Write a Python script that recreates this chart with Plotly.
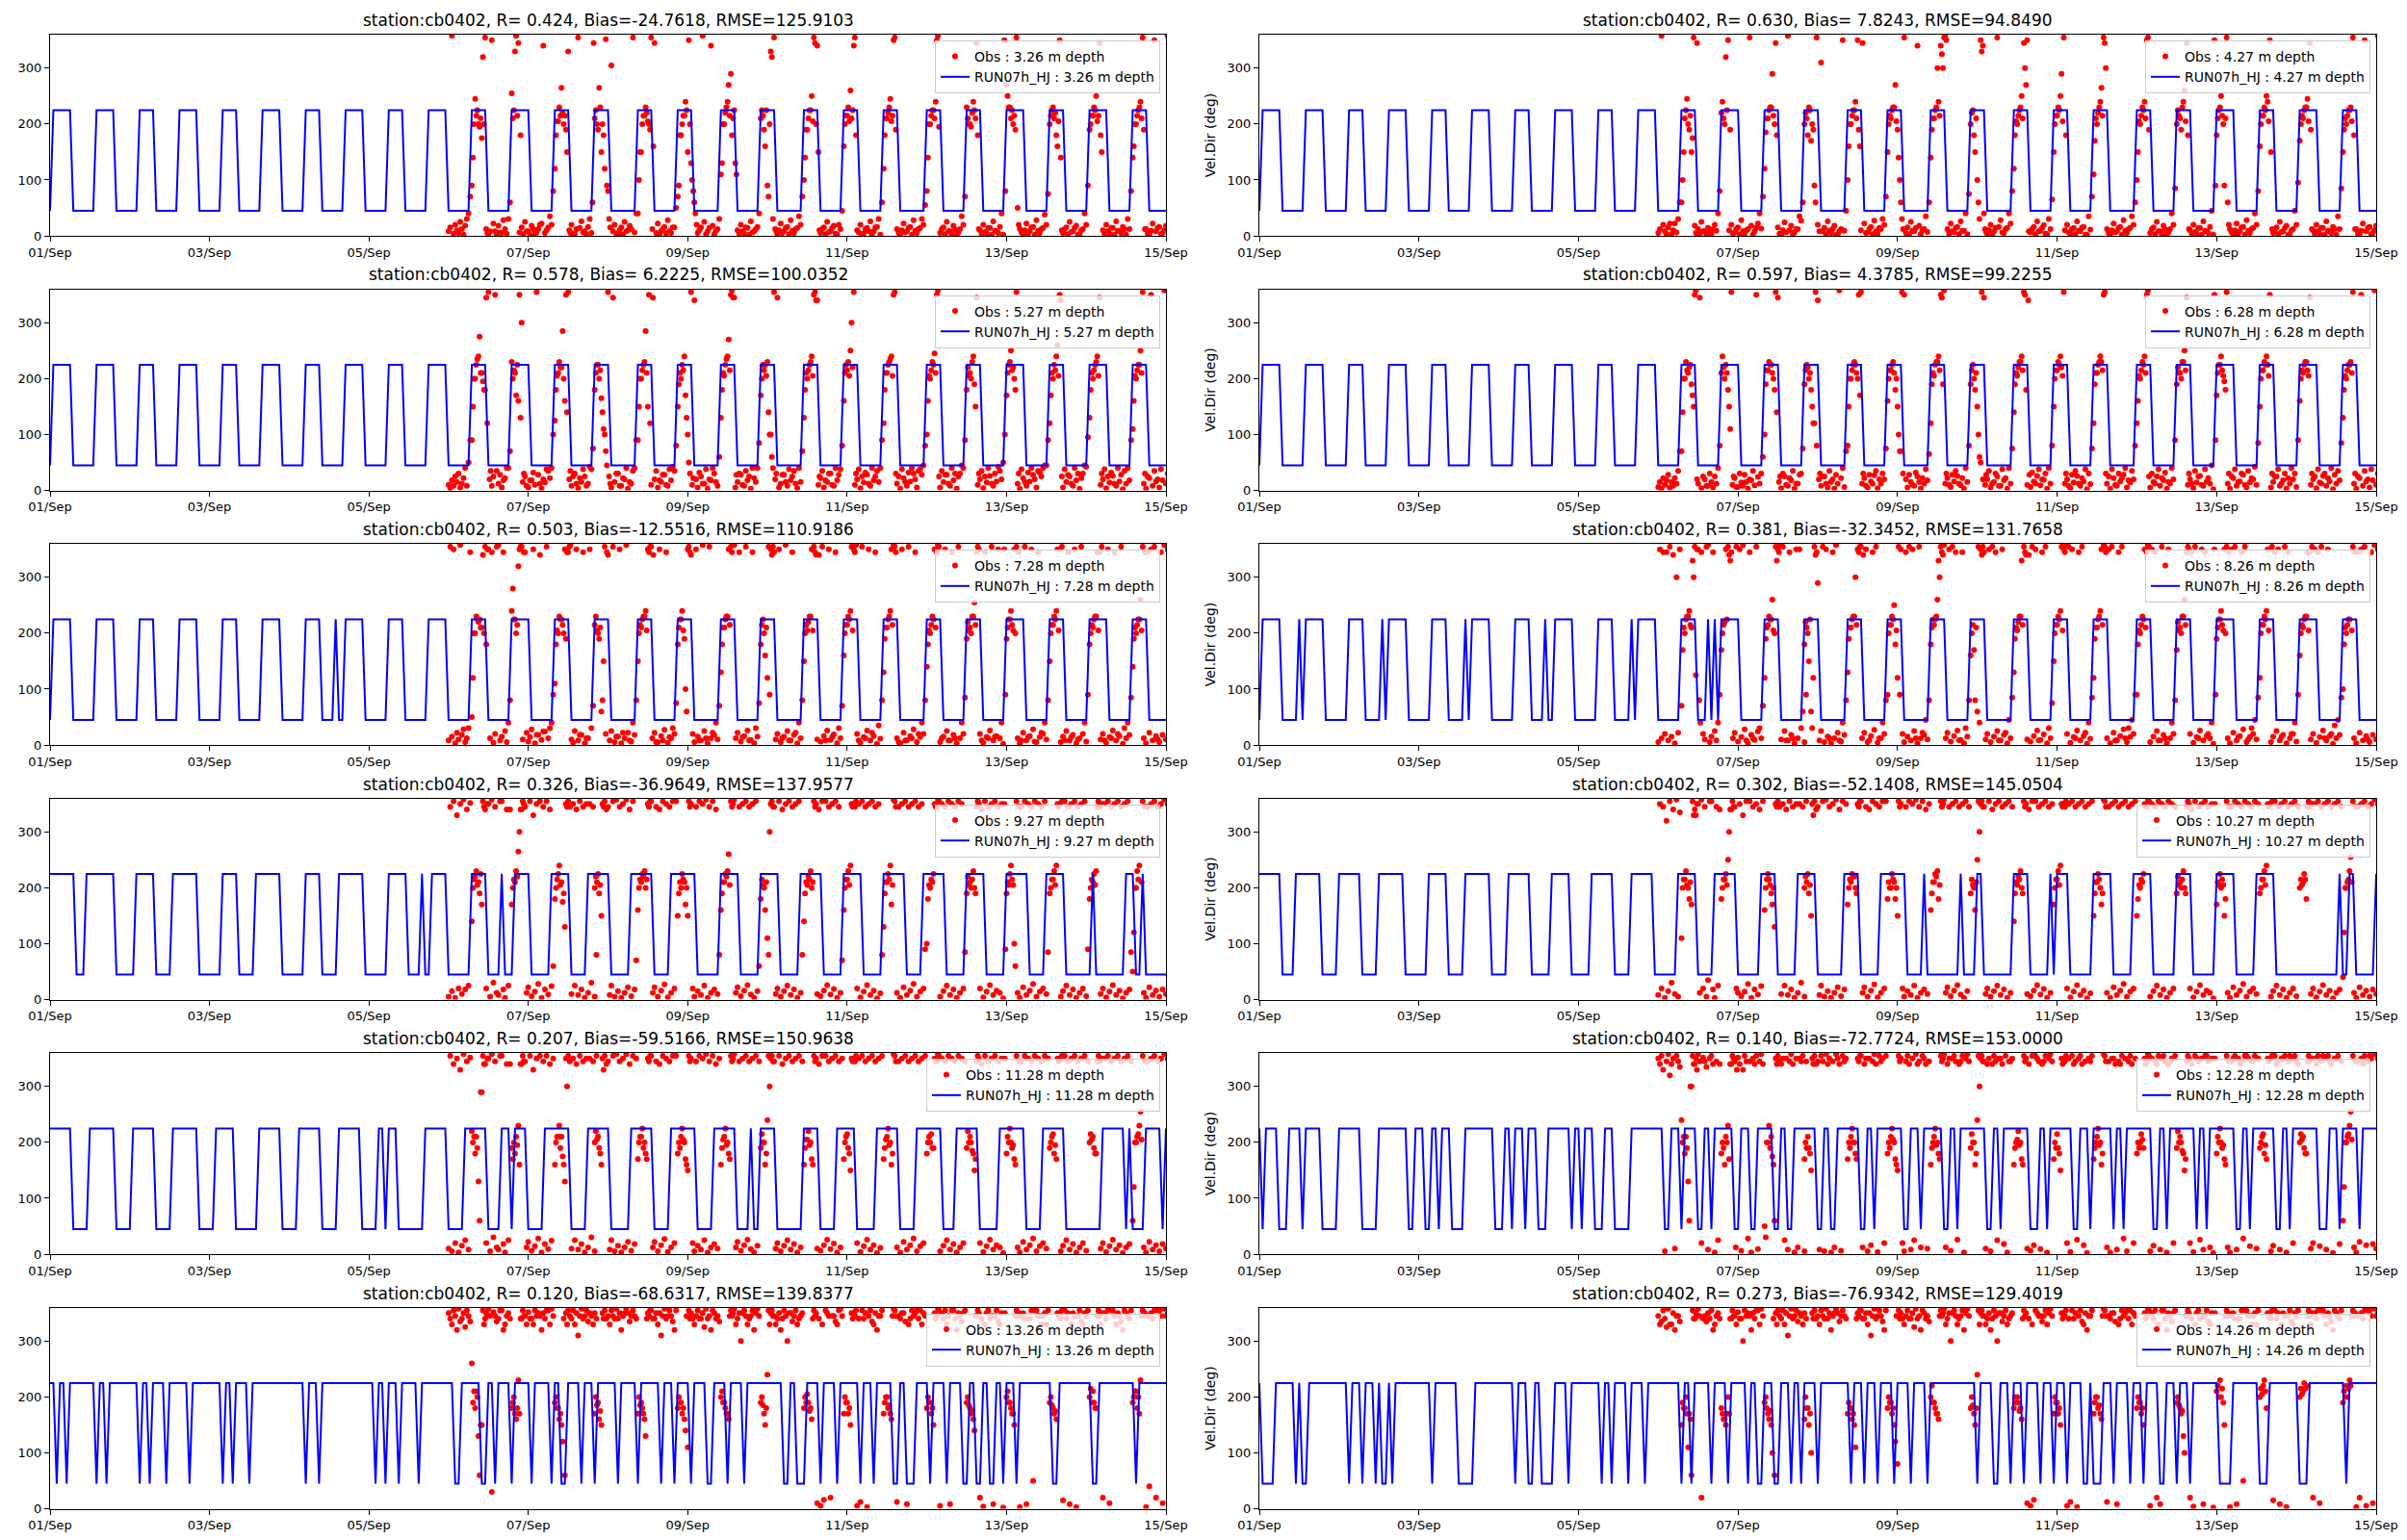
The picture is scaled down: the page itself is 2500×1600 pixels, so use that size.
import pandas as pd
import plotly.graph_objects as go

t0 = pd.Timestamp("2021-09-01")

depths = ["3.26", "4.27", "5.27", "6.28", "7.28", "8.26",
          "9.27", "10.27", "11.28", "12.28", "13.26", "14.26"]
r_vals = [0.424, 0.630, 0.578, 0.597, 0.503, 0.381, 0.326, 0.302, 0.207, 0.140, 0.120, 0.273]
bias_vals = [-24.7618, 7.8243, 6.2225, 4.3785, -12.5516, -32.3452,
             -36.9649, -52.1408, -59.5166, -72.7724, -68.6317, -76.9342]
rmse_vals = [125.9103, 94.8490, 100.0352, 99.2255, 110.9186, 131.7658,
             137.9577, 145.0504, 150.9638, 153.0000, 139.8377, 129.4019]

xtick_days = [0, 2, 4, 6, 8, 10, 12, 14]
ytick_vals = [0, 100, 200, 300]

# model (hourly, hours after 01/Sep 00h): hours where direction = 225 deg, else 45 deg
hi_base = [[1, 6], [14, 19], [27, 31], [39, 44], [52, 56], [64, 69], [77, 81], [89, 94], [102, 106],
           [114, 119], [127, 131], [139, 144], [152, 156], [164, 168], [177, 181], [189, 193], [202, 206],
           [214, 218], [227, 231], [239, 243], [251, 255], [264, 268], [276, 280], [288, 293], [301, 305],
           [313, 318], [326, 330]]
hi_728_extra = [[86, 86]]
hi_826_extra = [[12, 12], [37, 37], [62, 62], [86, 86], [112, 112], [135, 135], [137, 137]]
hi_927 = [[0, 7], [11, 19], [26, 31], [37, 44], [52, 56], [62, 69], [77, 81], [87, 94], [102, 107], [112, 112],
          [115, 119], [127, 131], [136, 136], [140, 144], [151, 156], [162, 168], [175, 181], [187, 194],
          [202, 207], [214, 219], [226, 232], [239, 244], [251, 257], [263, 269], [276, 281], [288, 294],
          [300, 305], [314, 314], [324, 326], [329, 329]]
hi_1027 = [[0, 6], [11, 18], [24, 30], [36, 43], [51, 56], [62, 69], [75, 81], [88, 93], [100, 106], [112, 118],
           [126, 131], [137, 143], [151, 155], [162, 167], [176, 180], [187, 194], [200, 200], [211, 211],
           [216, 217], [227, 231], [238, 238], [240, 243], [251, 256], [263, 268], [276, 280], [288, 293],
           [300, 305], [325, 325], [328, 329], [336, 336]]
hi_1128 = [[0, 6], [12, 19], [25, 31], [37, 44], [50, 55], [63, 69], [75, 81], [87, 93], [99, 100], [102, 104],
           [113, 119], [125, 131], [136, 138], [140, 143], [149, 156], [162, 168], [175, 181], [187, 194],
           [200, 206], [211, 211], [214, 218], [227, 231], [237, 242], [249, 255], [261, 268], [273, 279],
           [286, 293], [299, 305], [317, 323], [325, 325], [330, 334], [336, 336]]
hi_1228 = [[0, 0], [2, 5], [9, 12], [14, 18], [24, 30], [36, 44], [47, 49], [52, 53], [55, 57], [62, 70],
           [74, 75], [77, 79], [81, 83], [87, 93], [95, 96], [98, 100], [104, 106], [112, 121], [124, 126],
           [128, 131], [134, 135], [137, 142], [145, 147], [150, 154], [157, 158], [161, 167], [170, 171],
           [174, 180], [183, 184], [186, 193], [196, 198], [200, 205], [208, 209], [211, 218], [221, 222],
           [224, 231], [235, 236], [238, 244], [247, 249], [251, 256], [258, 259], [261, 268], [271, 272],
           [274, 281], [283, 284], [286, 293], [296, 297], [299, 305], [308, 309], [311, 318], [322, 324],
           [326, 330], [332, 336]]
# deepest layers: hours where direction drops to 45 deg, else 225 deg
lo_1326 = [[2, 2], [5, 5], [14, 14], [17, 17], [27, 27], [30, 30], [35, 35], [42, 42], [52, 52], [55, 55],
           [60, 60], [77, 77], [81, 81], [98, 98], [101, 101], [105, 105], [111, 111], [122, 123], [130, 131],
           [134, 134], [139, 139], [145, 145], [151, 151], [154, 155], [160, 160], [164, 164], [171, 171],
           [177, 177], [184, 184], [188, 188], [193, 193], [198, 199], [204, 204], [209, 209], [221, 222],
           [225, 227], [232, 232], [237, 237], [244, 244], [248, 248], [254, 255], [258, 260], [265, 265],
           [270, 270], [275, 276], [279, 280], [283, 284], [287, 287], [291, 291], [302, 303], [314, 315],
           [327, 327]]
lo_1426 = [[1, 4], [11, 11], [13, 14], [27, 27], [31, 31], [35, 35], [37, 38], [40, 40], [52, 52], [60, 64],
           [77, 77], [81, 82], [85, 88], [93, 93], [103, 103], [106, 106], [111, 111], [116, 116], [127, 127],
           [130, 130], [136, 136], [141, 141], [147, 147], [150, 151], [155, 156], [160, 160], [163, 163],
           [168, 168], [178, 178], [182, 182], [186, 186], [191, 191], [196, 196], [201, 201], [216, 216],
           [221, 222], [226, 226], [230, 230], [235, 235], [239, 239], [243, 243], [248, 249], [251, 253],
           [257, 257], [262, 262], [266, 266], [271, 272], [276, 276], [280, 280], [289, 292], [301, 303],
           [313, 315], [327, 327]]

model_hi = {"3.26": hi_base, "4.27": hi_base, "5.27": hi_base, "6.28": hi_base,
            "7.28": hi_base + hi_728_extra, "8.26": hi_base + hi_826_extra,
            "9.27": hi_927, "10.27": hi_1027, "11.28": hi_1128, "12.28": hi_1228}
model_lo = {"13.26": lo_1326, "14.26": lo_1426}

# observations: (start hour, one list of readings per consecutive hour)
obs_326 = [
    (120, [[8, 15], [358, 4], [20, 10], [5, 25], [12, 2], [18, 30], [40, 70]]),
    (127, [[90, 140, 200], [245, 215, 225], [200, 195, 210], [175, 320, 200], [355, 12, 5], [3, 8], [350, 22], [8, 2], [18, 6], [5, 28], [12, 4], [30, 60]]),
    (139, [[255, 210, 225], [330, 358, 215], [345, 6, 180], [15, 3], [25, 8], [8, 2], [18, 12], [3, 6], [12, 20], [22, 340], [5, 10], [15, 35], [20, 80]]),
    (152, [[120, 180, 205], [205, 230, 215], [265, 220, 200], [215, 190, 150], [330, 10, 5], [20, 4], [4, 12], [355, 14], [26, 6], [8, 2], [16, 30], [5, 60, 345]]),
    (164, [[210, 225, 200], [190, 265, 230], [150, 200, 180], [120, 352, 90], [80, 30, 15], [305, 8], [20, 4], [3, 10], [15, 2], [25, 8], [10, 18], [12, 355], [6, 40]]),
    (177, [[40, 100, 150], [150, 200, 215], [215, 230, 220], [205, 200, 190], [355, 12, 160], [345, 5], [22, 3], [8, 12], [16, 4], [28, 8], [5, 15], [15, 50]]),
    (189, [[70, 90, 180], [180, 200, 215], [215, 240, 225], [150, 350, 200], [130, 100, 80], [60, 40, 20], [5, 10], [15, 358], [25, 3], [8, 14], [340, 18], [3, 9], [12, 30]]),
    (202, [[110, 130, 200], [200, 220, 230], [240, 270, 215], [290, 180, 210], [225, 130, 110], [10, 4], [20, 8], [4, 15], [14, 2], [26, 6], [8, 12], [16, 40]]),
    (214, [[210, 225, 215], [190, 160, 225], [90, 70, 200], [330, 320, 30], [355, 12, 8], [3, 10], [22, 5], [8, 14], [16, 3], [28, 9], [5, 12], [14, 35], [20, 70]]),
    (227, [[100, 140, 190], [190, 210, 225], [225, 250, 205], [355, 345, 200], [340, 150, 10], [5, 12], [15, 3], [25, 7], [8, 14], [18, 4], [3, 20], [12, 45]]),
    (239, [[160, 200, 215], [215, 230, 205], [260, 210, 225], [340, 355, 180], [10, 6], [20, 3], [4, 12], [14, 8], [26, 2], [8, 15], [16, 30], [2, 60]]),
    (251, [[120, 180, 210], [210, 220, 230], [245, 205, 215], [350, 355, 190], [12, 5], [3, 10], [22, 6], [8, 14], [16, 2], [28, 9], [5, 12], [14, 30], [20, 55]]),
    (264, [[80, 140, 200], [200, 215, 225], [225, 210, 240], [350, 358, 195], [5, 12], [15, 3], [25, 8], [8, 2], [18, 11], [3, 6], [12, 35], [20, 70]]),
    (276, [[230, 210, 200], [200, 195, 220], [240, 225, 210], [345, 180, 12], [10, 4], [20, 7], [4, 14], [14, 2], [26, 9], [8, 5], [16, 40], [2, 350, 80]]),
    (288, [[270, 250, 230], [230, 210, 225], [200, 215, 190], [355, 50, 20], [12, 6], [3, 10], [22, 4], [8, 15], [16, 2], [28, 9], [5, 12], [14, 38], [20, 75]]),
    (301, [[200, 215, 225], [230, 210, 220], [180, 160, 205], [350, 140, 10], [5, 12], [15, 3], [25, 7], [8, 14], [18, 2], [3, 10], [12, 40], [20, 90]]),
    (313, [[190, 200, 215], [215, 230, 225], [250, 205, 215], [345, 180, 150], [10, 4], [20, 8], [4, 14], [14, 2], [26, 9], [8, 5], [16, 12], [2, 30], [12, 80]]),
    (326, [[140, 160, 200], [200, 215, 225], [230, 240, 210], [355, 190, 12], [12, 4], [3, 9], [22, 350], [8, 14], [16, 3], [5, 10], [18, 358]]),
]
obs_427 = [
    (120, [[5, 12], [358, 20], [8, 3], [15, 22], [3, 10], [22, 6], [30, 60]]),
    (127, [[60, 100, 150], [210, 225, 245], [200, 190, 215], [150, 175, 355], [18, 5, 345], [12, 3], [25, 8], [8, 2], [14, 6], [3, 12], [20, 9], [40, 80]]),
    (139, [[220, 240, 210], [200, 320, 225], [350, 10, 190], [20, 4], [6, 12], [15, 3], [28, 8], [4, 10], [12, 355], [18, 2], [8, 14], [22, 40], [13, 70]]),
    (152, [[120, 185, 210], [210, 225, 230], [230, 290, 215], [200, 345, 180], [15, 4], [3, 10], [24, 6], [358, 10], [18, 2], [6, 12], [12, 35], [27, 60]]),
    (164, [[200, 220, 210], [180, 230, 225], [170, 200, 190], [90, 60, 355], [20, 8], [310, 8], [14, 3], [26, 9], [5, 12], [18, 2], [2, 8], [12, 350], [9, 45]]),
    (177, [[100, 160, 200], [200, 215, 225], [225, 240, 210], [350, 190, 160], [10, 345], [22, 5], [6, 12], [16, 3], [27, 8], [4, 14], [12, 30], [20, 70]]),
    (189, [[150, 200, 215], [210, 225, 230], [230, 270, 205], [190, 140, 100], [60, 30, 12], [355, 5], [15, 3], [25, 9], [8, 14], [340, 18], [3, 10], [12, 35], [7, 60]]),
    (202, [[140, 190, 210], [210, 225, 230], [300, 240, 215], [340, 325, 300], [355, 358, 350], [12, 4], [22, 8], [6, 14], [16, 3], [26, 9], [9, 40], [3, 75]]),
    (214, [[200, 220, 225], [180, 150, 210], [100, 60, 30], [350, 330, 340], [40, 12, 6], [4, 10], [20, 3], [8, 14], [355, 16], [28, 6], [5, 12], [14, 40], [22, 80]]),
    (227, [[120, 180, 205], [200, 215, 225], [230, 250, 210], [345, 300, 270], [350, 8], [6, 12], [16, 3], [26, 8], [9, 14], [19, 4], [3, 30], [12, 65]]),
    (239, [[150, 200, 215], [215, 230, 225], [250, 290, 205], [355, 10, 180], [20, 6], [4, 12], [14, 3], [26, 9], [8, 15], [16, 2], [2, 35], [11, 70]]),
    (251, [[110, 170, 210], [200, 220, 230], [240, 265, 215], [355, 345, 300], [12, 5], [3, 10], [22, 6], [8, 14], [16, 2], [28, 9], [5, 12], [14, 35], [20, 60]]),
    (264, [[100, 150, 205], [200, 215, 230], [225, 240, 210], [350, 355, 190], [5, 12], [15, 3], [25, 8], [8, 2], [18, 11], [3, 6], [12, 40], [20, 85]]),
    (276, [[200, 225, 215], [210, 190, 230], [240, 260, 205], [345, 180, 12], [10, 4], [20, 7], [4, 14], [14, 2], [26, 9], [8, 5], [16, 45], [2, 350, 90]]),
    (288, [[180, 210, 225], [230, 250, 215], [200, 90, 210], [355, 60, 20], [12, 6], [3, 10], [22, 4], [8, 15], [16, 2], [28, 9], [5, 12], [14, 40], [20, 80]]),
    (301, [[160, 200, 215], [215, 230, 225], [250, 240, 205], [350, 150, 12], [5, 10], [15, 3], [25, 7], [8, 14], [18, 2], [3, 10], [12, 45], [20, 95]]),
    (313, [[170, 200, 215], [210, 225, 230], [230, 245, 205], [345, 190, 12], [10, 4], [20, 8], [4, 14], [14, 2], [26, 9], [8, 5], [16, 12], [2, 35], [12, 85]]),
    (326, [[150, 190, 210], [200, 215, 225], [225, 230, 205], [355, 180, 12], [12, 4], [3, 9], [22, 350], [8, 14], [16, 3], [5, 10], [18, 358]]),
]
obs_527 = [
    (120, [[10, 4], [18, 8], [25, 15], [30, 5], [12, 22], [40, 8], [50, 90]]),
    (127, [[90, 150, 200], [200, 225, 235], [240, 275, 210], [210, 195, 180], [180, 345, 120], [355, 20, 35], [8, 25], [350, 35], [12, 28], [5, 18], [22, 40], [40, 70]]),
    (139, [[230, 200, 215], [210, 170, 225], [160, 350, 130], [300, 15, 30], [25, 8], [5, 18], [18, 32], [10, 355], [28, 12], [3, 20], [14, 38], [35, 22], [40, 100]]),
    (152, [[125, 180, 205], [210, 230, 220], [220, 285, 200], [160, 350, 140], [355, 20, 35], [8, 25], [30, 12], [4, 22], [15, 38], [25, 8], [12, 42], [38, 75]]),
    (164, [[180, 210, 225], [225, 200, 215], [165, 140, 110], [100, 70, 45], [355, 25, 12], [5, 345], [15, 30], [30, 8], [8, 22], [20, 40], [3, 15], [12, 35], [40, 90]]),
    (177, [[90, 150, 200], [200, 215, 225], [230, 285, 210], [150, 350, 120], [10, 345], [20, 35], [5, 18], [15, 28], [28, 10], [8, 38], [18, 42], [35, 80]]),
    (189, [[150, 190, 210], [200, 225, 215], [240, 170, 130], [100, 50, 30], [355, 10, 22], [340, 20], [5, 32], [25, 12], [12, 38], [3, 20], [18, 40], [30, 15], [8, 60]]),
    (202, [[130, 180, 210], [205, 225, 235], [240, 270, 215], [350, 358, 345], [345, 5, 28], [15, 30], [28, 10], [8, 35], [18, 25], [3, 40], [22, 15], [40, 85]]),
    (214, [[170, 200, 225], [215, 225, 205], [230, 140, 100], [100, 60, 40], [355, 20, 30], [345, 5], [12, 28], [28, 15], [8, 38], [18, 25], [35, 12], [4, 40], [15, 70]]),
    (227, [[130, 180, 210], [200, 215, 225], [230, 240, 205], [350, 355, 340], [340, 10, 25], [22, 35], [5, 18], [15, 30], [30, 10], [8, 40], [18, 28], [38, 80]]),
    (239, [[160, 210, 225], [215, 230, 205], [250, 300, 220], [355, 10, 30], [20, 38], [4, 25], [14, 32], [28, 12], [8, 40], [18, 25], [35, 15], [40, 90]]),
    (251, [[120, 180, 210], [210, 225, 230], [235, 240, 205], [350, 355, 30], [12, 25], [3, 38], [22, 15], [8, 32], [16, 40], [30, 20], [5, 35], [38, 28], [45, 80]]),
    (264, [[100, 160, 205], [200, 215, 230], [225, 245, 210], [350, 358, 25], [5, 35], [15, 28], [28, 12], [8, 40], [18, 30], [3, 25], [30, 45], [40, 90]]),
    (276, [[180, 220, 205], [210, 200, 230], [240, 190, 150], [345, 10, 30], [20, 35], [4, 25], [14, 40], [26, 12], [8, 30], [16, 42], [35, 20], [50, 100]]),
    (288, [[170, 210, 225], [230, 250, 215], [220, 200, 180], [355, 12, 30], [3, 38], [22, 15], [8, 32], [16, 40], [28, 20], [5, 35], [32, 25], [40, 45], [45, 90]]),
    (301, [[120, 170, 210], [200, 225, 215], [240, 260, 205], [350, 340, 25], [5, 38], [15, 28], [25, 12], [8, 40], [18, 30], [3, 22], [30, 45], [42, 95]]),
    (313, [[130, 180, 210], [200, 215, 225], [230, 240, 205], [345, 10, 30], [20, 38], [4, 25], [14, 32], [26, 12], [8, 40], [16, 28], [2, 35], [12, 40], [18, 90]]),
    (326, [[110, 160, 205], [200, 215, 225], [225, 250, 210], [355, 12, 30], [3, 25], [22, 350], [8, 35], [16, 20], [5, 38], [18, 358], [12, 30]]),
]
obs_628 = [
    (120, [[6, 15], [3, 22], [10, 18], [28, 5], [15, 8], [22, 12], [35, 70]]),
    (127, [[70, 140, 200], [200, 230, 215], [210, 220, 225], [190, 170, 150], [350, 358, 20], [12, 345], [4, 25], [20, 8], [8, 30], [15, 5], [25, 12], [40, 80]]),
    (139, [[210, 240, 220], [200, 225, 210], [180, 150, 110], [355, 10, 25], [22, 6], [6, 30], [14, 8], [28, 15], [3, 20], [18, 35], [9, 350], [24, 12], [30, 60]]),
    (152, [[100, 190, 215], [215, 230, 225], [225, 210, 200], [180, 355, 140], [345, 15, 25], [4, 30], [25, 10], [8, 22], [18, 35], [3, 12], [12, 28], [30, 75]]),
    (164, [[190, 215, 225], [220, 200, 210], [180, 150, 120], [120, 355, 80], [340, 20, 30], [8, 25], [25, 12], [5, 35], [15, 20], [3, 28], [12, 358], [22, 40], [6, 70]]),
    (177, [[80, 150, 200], [200, 215, 225], [230, 225, 210], [200, 350, 170], [355, 12, 30], [22, 8], [5, 28], [16, 12], [27, 35], [4, 20], [12, 30], [20, 75]]),
    (189, [[160, 200, 215], [215, 225, 230], [210, 180, 200], [150, 100, 70], [70, 355, 30], [350, 20], [5, 28], [15, 10], [8, 32], [25, 15], [3, 22], [12, 38], [18, 65]]),
    (202, [[120, 190, 210], [205, 225, 230], [230, 240, 215], [350, 345, 190], [358, 12, 30], [22, 10], [6, 28], [16, 35], [26, 12], [9, 22], [3, 40], [15, 80]]),
    (214, [[190, 215, 225], [200, 180, 210], [150, 100, 60], [50, 355, 20], [345, 10, 28], [20, 35], [5, 12], [15, 30], [25, 8], [8, 38], [18, 22], [3, 40], [12, 75]]),
    (227, [[140, 190, 210], [205, 220, 230], [230, 240, 215], [355, 350, 180], [10, 340, 28], [6, 32], [16, 12], [26, 38], [9, 20], [19, 30], [3, 40], [12, 80]]),
    (239, [[150, 200, 215], [215, 230, 225], [240, 220, 205], [355, 12, 30], [20, 8], [4, 28], [14, 35], [26, 12], [8, 22], [16, 38], [2, 30], [11, 75]]),
    (251, [[120, 190, 210], [210, 225, 230], [240, 230, 215], [350, 355, 30], [12, 25], [3, 38], [22, 10], [8, 30], [16, 22], [28, 40], [5, 18], [14, 35], [20, 80]]),
    (264, [[120, 160, 205], [200, 215, 230], [225, 240, 210], [350, 358, 25], [5, 30], [15, 12], [25, 38], [8, 22], [18, 32], [3, 15], [12, 40], [20, 90]]),
    (276, [[190, 220, 210], [210, 200, 230], [230, 250, 215], [345, 10, 30], [20, 12], [4, 35], [14, 25], [26, 10], [8, 38], [16, 22], [12, 45], [2, 350, 90]]),
    (288, [[170, 210, 225], [225, 240, 215], [205, 195, 180], [355, 12, 30], [3, 25], [22, 38], [8, 15], [16, 30], [28, 10], [5, 35], [14, 22], [20, 42], [10, 85]]),
    (301, [[150, 200, 215], [215, 230, 225], [240, 225, 205], [350, 5, 30], [15, 25], [25, 38], [8, 12], [18, 30], [3, 22], [12, 40], [20, 30], [6, 90]]),
    (313, [[160, 200, 215], [210, 225, 230], [230, 215, 205], [345, 10, 30], [20, 25], [4, 38], [14, 12], [26, 30], [8, 22], [16, 40], [2, 28], [12, 35], [18, 85]]),
    (326, [[130, 180, 205], [200, 215, 225], [225, 230, 210], [355, 12, 30], [3, 25], [22, 350], [8, 35], [16, 20], [5, 38], [18, 358], [10, 30]]),
]
obs_728 = [
    (120, [[8, 355], [15, 350], [3, 22], [10, 358], [18, 28], [5, 12], [30, 345]]),
    (127, [[50, 120, 200], [200, 230, 225], [220, 225, 210], [210, 340, 200], [355, 180, 350], [350, 12], [345, 4], [20, 355], [358, 8], [15, 345], [25, 5], [40, 80]]),
    (139, [[240, 280, 225], [225, 200, 215], [320, 350, 355], [355, 10, 345], [345, 22], [6, 14], [28, 350], [3, 18], [18, 340], [9, 24], [24, 355], [12, 30], [40, 90]]),
    (152, [[110, 180, 205], [200, 230, 225], [225, 215, 200], [350, 190, 345], [345, 355, 358], [10, 4], [25, 350], [8, 18], [18, 345], [3, 12], [12, 350], [30, 70]]),
    (164, [[215, 230, 205], [200, 190, 210], [60, 80, 150], [355, 20, 345], [340, 8], [25, 355], [5, 15], [15, 350], [3, 22], [12, 358], [22, 8], [6, 40], [18, 80]]),
    (177, [[150, 200, 215], [210, 225, 230], [230, 240, 205], [350, 345, 355], [355, 12, 340], [22, 5], [5, 350], [16, 8], [27, 345], [4, 14], [12, 30], [20, 75]]),
    (189, [[180, 210, 225], [225, 240, 205], [190, 100, 60], [350, 355, 345], [340, 20], [5, 350], [15, 8], [8, 358], [25, 12], [3, 355], [12, 22], [18, 40], [10, 70]]),
    (202, [[130, 180, 210], [210, 225, 230], [230, 350, 215], [355, 345, 358], [358, 12], [22, 345], [6, 14], [16, 355], [26, 8], [9, 345], [3, 30], [15, 75]]),
    (214, [[180, 215, 225], [200, 160, 210], [120, 355, 90], [350, 340, 355], [345, 10], [20, 350], [5, 12], [15, 358], [25, 8], [8, 345], [18, 22], [3, 40], [12, 80]]),
    (227, [[150, 200, 215], [205, 220, 230], [230, 350, 205], [355, 345, 340], [10, 340], [6, 355], [16, 8], [26, 350], [9, 14], [19, 345], [3, 30], [12, 70]]),
    (239, [[160, 200, 215], [215, 230, 225], [240, 355, 205], [350, 345, 358], [20, 8], [4, 355], [14, 12], [26, 350], [8, 22], [16, 345], [2, 35], [11, 80]]),
    (251, [[130, 190, 210], [210, 225, 230], [240, 350, 215], [358, 355, 345], [12, 5], [3, 350], [22, 8], [8, 355], [16, 12], [28, 345], [5, 20], [14, 40], [20, 80]]),
    (264, [[140, 180, 205], [200, 215, 230], [225, 350, 210], [345, 358, 355], [5, 12], [15, 350], [25, 8], [8, 345], [18, 12], [3, 355], [12, 40], [20, 85]]),
    (276, [[190, 220, 205], [210, 200, 230], [230, 255, 215], [345, 355, 350], [20, 8], [4, 345], [14, 12], [26, 355], [8, 15], [16, 350], [12, 40], [2, 350, 90]]),
    (288, [[190, 210, 225], [225, 240, 215], [205, 350, 200], [355, 12, 345], [3, 8], [22, 355], [8, 14], [16, 350], [28, 6], [5, 345], [14, 22], [20, 40], [10, 80]]),
    (301, [[150, 200, 215], [215, 230, 225], [240, 350, 205], [350, 5, 355], [15, 8], [25, 345], [8, 14], [18, 350], [3, 10], [12, 355], [20, 40], [6, 90]]),
    (313, [[180, 200, 215], [210, 225, 230], [230, 345, 205], [345, 10, 355], [20, 8], [4, 350], [14, 12], [26, 345], [8, 20], [16, 355], [2, 30], [12, 40], [18, 85]]),
    (326, [[140, 190, 210], [200, 215, 225], [225, 260, 205], [355, 12, 345], [3, 345], [22, 350], [8, 355], [16, 10], [5, 345], [18, 358], [10, 350]]),
]
obs_826 = [
    (120, [[5, 350], [12, 345], [20, 345], [8, 355], [15, 340], [3, 300], [22, 350]]),
    (127, [[70, 170, 210], [200, 225, 230], [230, 240, 215], [210, 330, 300], [355, 125, 350], [350, 80, 40], [345, 20], [10, 355], [358, 5], [15, 345], [25, 8], [40, 90]]),
    (139, [[170, 200, 215], [220, 350, 225], [355, 340, 330], [345, 12], [22, 355], [6, 350], [14, 358], [28, 8], [3, 345], [18, 12], [9, 355], [24, 30], [12, 70]]),
    (152, [[120, 190, 210], [215, 230, 225], [225, 260, 205], [200, 355, 330], [350, 345, 358], [10, 355], [25, 8], [8, 345], [18, 12], [3, 350], [12, 350], [30, 60], [5, 90]]),
    (164, [[180, 220, 210], [200, 150, 225], [60, 30, 120], [355, 340, 345], [290, 8], [25, 355], [5, 350], [15, 12], [3, 345], [12, 358], [22, 8], [6, 40], [18, 80]]),
    (177, [[130, 190, 210], [210, 225, 230], [230, 300, 215], [350, 345, 355], [355, 12, 340], [22, 350], [5, 8], [16, 345], [27, 355], [4, 12], [12, 40], [20, 80]]),
    (189, [[90, 200, 215], [215, 230, 225], [250, 180, 205], [120, 355, 90], [350, 20], [5, 345], [15, 355], [8, 350], [25, 12], [3, 355], [12, 22], [18, 45], [10, 80]]),
    (202, [[180, 210, 225], [215, 225, 230], [260, 330, 300], [355, 345, 340], [358, 12], [22, 350], [6, 355], [16, 345], [26, 8], [9, 345], [3, 30], [15, 80]]),
    (214, [[160, 200, 215], [170, 80, 210], [60, 355, 40], [350, 340, 355], [345, 10], [20, 350], [5, 355], [15, 345], [25, 8], [8, 350], [18, 22], [3, 45], [12, 85]]),
    (227, [[130, 190, 210], [205, 220, 230], [230, 330, 215], [355, 345, 340], [10, 340], [6, 355], [16, 350], [26, 8], [9, 345], [19, 355], [3, 30], [12, 75]]),
    (239, [[150, 200, 215], [215, 230, 225], [240, 355, 205], [350, 345, 358], [20, 355], [4, 350], [14, 12], [26, 345], [8, 355], [16, 22], [2, 40], [11, 85]]),
    (251, [[120, 190, 210], [210, 225, 230], [240, 350, 215], [358, 355, 345], [12, 350], [3, 355], [22, 8], [8, 345], [16, 355], [28, 12], [5, 30], [14, 45], [20, 90]]),
    (264, [[90, 180, 205], [200, 215, 230], [225, 350, 210], [345, 358, 355], [5, 350], [15, 345], [25, 8], [8, 355], [18, 12], [3, 350], [12, 40], [20, 80]]),
    (276, [[170, 220, 205], [210, 200, 230], [230, 260, 215], [345, 355, 350], [20, 345], [4, 355], [14, 12], [26, 350], [8, 345], [16, 20], [12, 40], [2, 350, 90]]),
    (288, [[190, 210, 225], [225, 240, 215], [205, 350, 200], [355, 12, 345], [3, 350], [22, 355], [8, 14], [16, 345], [28, 355], [5, 10], [14, 30], [20, 45], [10, 85]]),
    (301, [[120, 200, 215], [215, 230, 225], [240, 350, 205], [350, 5, 355], [15, 345], [25, 350], [8, 14], [18, 355], [3, 345], [12, 20], [20, 40], [6, 90]]),
    (313, [[160, 200, 215], [210, 225, 230], [230, 345, 205], [345, 10, 355], [20, 350], [4, 345], [14, 355], [26, 12], [8, 350], [16, 20], [2, 35], [12, 45], [18, 85]]),
    (326, [[100, 180, 210], [200, 215, 225], [225, 280, 205], [355, 12, 345], [3, 345], [22, 350], [8, 355], [16, 10], [5, 345], [18, 358], [10, 350]]),
]
obs_927 = [
    (120, [[5, 345], [15, 355], [3, 330], [20, 350], [10, 358], [18, 340], [25, 352]]),
    (127, [[140, 200, 215], [220, 230, 205], [210, 190, 225], [170, 355, 345], [340, 20, 350], [350, 5], [358, 30], [345, 12], [8, 355], [355, 18], [3, 340], [25, 340]]),
    (139, [[170, 200, 215], [210, 230, 220], [265, 300, 340], [340, 355, 350], [345, 12], [22, 355], [6, 330], [14, 350], [28, 355], [3, 345], [18, 355], [9, 340], [24, 60]]),
    (152, [[180, 200, 215], [225, 240, 205], [210, 175, 190], [130, 350, 345], [355, 345], [10, 350], [25, 340], [8, 355], [18, 345], [3, 350], [12, 350], [30, 345], [5, 80]]),
    (164, [[200, 220, 210], [225, 190, 205], [150, 350, 345], [355, 340], [345, 8], [25, 355], [5, 358], [15, 345], [3, 350], [12, 358], [22, 340], [6, 355], [18, 70]]),
    (177, [[160, 200, 215], [210, 225, 220], [230, 200, 215], [350, 345, 355], [355, 12], [22, 345], [5, 340], [16, 355], [27, 350], [4, 345], [12, 355], [20, 355]]),
    (189, [[150, 190, 210], [200, 225, 215], [210, 170, 200], [150, 355, 345], [350, 20], [5, 345], [15, 355], [8, 350], [25, 358], [3, 345], [12, 355], [18, 340], [10, 80]]),
    (202, [[160, 190, 210], [210, 225, 220], [230, 260, 205], [355, 345, 350], [358, 12], [22, 345], [6, 350], [16, 355], [26, 345], [9, 350], [3, 355], [15, 60]]),
    (214, [[180, 215, 205], [200, 160, 210], [110, 80, 300], [350, 355, 345], [345, 10], [20, 355], [5, 340], [15, 350], [25, 355], [8, 345], [18, 350], [3, 355], [12, 80]]),
    (227, [[140, 190, 210], [205, 220, 215], [230, 200, 210], [355, 345, 350], [10, 340], [6, 355], [16, 355], [26, 345], [9, 350], [19, 355], [3, 345], [12, 70]]),
    (239, [[160, 200, 215], [215, 230, 205], [240, 350, 345], [350, 345, 355], [20, 350], [4, 355], [14, 345], [26, 350], [8, 355], [16, 345], [2, 350], [11, 80]]),
    (251, [[130, 190, 210], [210, 225, 215], [240, 170, 205], [358, 355, 345], [12, 345], [3, 350], [22, 355], [8, 345], [16, 350], [28, 355], [5, 345], [14, 350], [20, 90]]),
    (264, [[100, 180, 205], [200, 215, 210], [225, 350, 345], [345, 358, 355], [5, 350], [15, 345], [25, 355], [8, 350], [18, 345], [3, 355], [12, 350], [20, 85]]),
    (276, [[190, 220, 205], [210, 200, 215], [230, 200, 190], [345, 355, 350], [20, 340], [4, 355], [14, 345], [26, 350], [8, 355], [16, 345], [12, 350], [2, 350, 90]]),
    (288, [[190, 210, 205], [225, 240, 215], [205, 100, 60], [355, 12, 345], [3, 345], [22, 355], [8, 350], [16, 345], [28, 355], [5, 350], [14, 345], [20, 355], [10, 85]]),
    (301, [[190, 200, 215], [215, 230, 205], [240, 350, 345], [350, 5, 355], [15, 355], [25, 345], [8, 350], [18, 355], [3, 345], [12, 350], [20, 355], [6, 90]]),
    (313, [[180, 200, 215], [210, 225, 205], [230, 345, 355], [345, 10, 350], [20, 350], [4, 355], [14, 345], [26, 350], [8, 355], [16, 345], [2, 350], [12, 355], [18, 85]]),
    (326, [[50, 120, 200], [200, 230, 215], [240, 280, 210], [355, 12, 345], [3, 345], [22, 350], [8, 355], [16, 345], [5, 350], [18, 358], [10, 350]]),
]
obs_1027 = [
    (120, [[8, 350], [20, 345], [3, 320], [15, 355], [30, 340], [10, 358], [5, 335]]),
    (127, [[110, 200, 215], [215, 230, 205], [200, 180, 210], [170, 355, 330], [340, 330, 350], [350, 12], [358, 20], [345, 5], [35, 355], [355, 18], [3, 345], [25, 340]]),
    (139, [[180, 200, 215], [215, 225, 205], [250, 300, 340], [340, 355, 345], [345, 20], [12, 350], [6, 330], [14, 355], [28, 355], [3, 345], [18, 350], [9, 340], [24, 355]]),
    (152, [[160, 200, 215], [225, 215, 205], [190, 170, 200], [130, 350, 345], [355, 345], [10, 350], [25, 340], [8, 355], [18, 345], [3, 350], [12, 350], [30, 345], [5, 355]]),
    (164, [[200, 220, 210], [225, 190, 205], [150, 350, 330], [355, 340], [345, 8], [25, 355], [5, 358], [15, 345], [3, 350], [12, 358], [22, 340], [6, 355], [18, 350]]),
    (177, [[170, 200, 215], [210, 225, 220], [220, 200, 190], [350, 345, 355], [355, 12], [22, 345], [5, 340], [16, 355], [27, 350], [4, 345], [12, 355], [20, 355]]),
    (189, [[180, 210, 200], [200, 225, 215], [210, 180, 200], [150, 355, 345], [350, 20], [5, 345], [15, 355], [8, 350], [25, 358], [3, 345], [12, 355], [18, 340], [10, 350]]),
    (202, [[160, 190, 210], [210, 225, 220], [230, 180, 205], [355, 345, 350], [358, 12], [22, 345], [6, 350], [16, 355], [26, 345], [9, 350], [3, 355], [15, 345]]),
    (214, [[190, 215, 205], [200, 160, 210], [250, 355, 300], [350, 355, 345], [345, 10], [20, 355], [5, 340], [15, 350], [25, 355], [8, 345], [18, 350], [3, 355], [12, 345]]),
    (227, [[140, 190, 210], [205, 220, 215], [230, 200, 190], [355, 345, 350], [10, 340], [6, 355], [16, 355], [26, 345], [9, 350], [19, 355], [3, 345], [12, 350]]),
    (239, [[170, 200, 215], [215, 230, 205], [240, 350, 345], [350, 345, 355], [20, 350], [4, 355], [14, 345], [26, 350], [8, 355], [16, 345], [2, 350], [11, 355]]),
    (251, [[150, 190, 210], [210, 225, 215], [200, 170, 190], [358, 355, 345], [12, 345], [3, 350], [22, 355], [8, 345], [16, 350], [28, 355], [5, 345], [14, 350], [20, 355]]),
    (264, [[150, 180, 205], [200, 215, 210], [225, 350, 345], [345, 358, 355], [5, 350], [15, 345], [25, 355], [8, 350], [18, 345], [3, 355], [12, 350], [20, 345]]),
    (276, [[190, 220, 205], [210, 200, 215], [230, 200, 190], [345, 355, 350], [20, 340], [4, 355], [14, 345], [26, 350], [8, 355], [16, 345], [12, 350], [2, 350]]),
    (288, [[170, 210, 205], [225, 200, 215], [205, 150, 180], [355, 12, 345], [3, 345], [22, 355], [8, 350], [16, 345], [28, 355], [5, 350], [14, 345], [20, 355], [10, 350]]),
    (301, [[190, 200, 215], [215, 230, 205], [240, 350, 345], [350, 5, 355], [15, 355], [25, 345], [8, 350], [18, 355], [3, 345], [12, 350], [20, 355], [6, 345]]),
    (313, [[200, 215, 205], [210, 225, 215], [180, 345, 355], [345, 10, 350], [20, 350], [4, 355], [14, 345], [26, 350], [8, 355], [16, 345], [2, 350], [12, 355], [18, 345]]),
    (326, [[40, 120, 200], [200, 210, 215], [230, 255, 210], [355, 12, 345], [3, 345], [22, 350], [8, 355], [16, 345], [5, 350], [18, 358], [10, 350]]),
]
obs_1128 = [
    (120, [[10, 355], [5, 340], [20, 350], [3, 330], [15, 358], [25, 345], [8, 352]]),
    (127, [[220, 200, 210], [180, 210, 190], [130, 60, 290], [290, 355, 340], [340, 20, 350], [350, 5], [358, 30], [345, 12], [8, 355], [355, 18], [3, 340], [25, 340]]),
    (139, [[190, 170, 200], [180, 210, 195], [230, 160, 340], [340, 355, 345], [345, 12], [22, 355], [6, 330], [14, 350], [28, 355], [3, 345], [18, 355], [9, 340], [24, 350]]),
    (152, [[160, 200, 210], [210, 230, 190], [210, 175, 160], [130, 350, 300], [355, 345], [10, 350], [25, 340], [8, 355], [18, 345], [3, 350], [12, 350], [30, 345], [5, 355]]),
    (164, [[200, 220, 205], [210, 190, 180], [160, 350, 330], [355, 340], [345, 8], [25, 355], [5, 358], [15, 345], [3, 350], [12, 358], [22, 340], [6, 355], [18, 350]]),
    (177, [[170, 200, 210], [210, 225, 190], [200, 180, 170], [350, 345, 355], [355, 12], [22, 345], [5, 340], [16, 355], [27, 350], [4, 345], [12, 355], [20, 355]]),
    (189, [[180, 200, 190], [210, 225, 205], [200, 170, 160], [150, 355, 345], [350, 20], [5, 345], [15, 355], [8, 350], [25, 358], [3, 345], [12, 355], [18, 340], [10, 350]]),
    (202, [[160, 190, 205], [210, 225, 195], [200, 180, 170], [355, 345, 350], [358, 12], [22, 345], [6, 350], [16, 355], [26, 345], [9, 350], [3, 355], [15, 345]]),
    (214, [[190, 215, 200], [200, 160, 180], [240, 355, 300], [350, 355, 345], [345, 10], [20, 355], [5, 340], [15, 350], [25, 355], [8, 345], [18, 350], [3, 355], [12, 345]]),
    (227, [[160, 190, 205], [205, 220, 195], [200, 170, 160], [355, 345, 350], [10, 340], [6, 355], [16, 355], [26, 345], [9, 350], [19, 355], [3, 345], [12, 350]]),
    (239, [[170, 200, 210], [215, 190, 180], [150, 350, 345], [350, 345, 355], [20, 350], [4, 355], [14, 345], [26, 350], [8, 355], [16, 345], [2, 350], [11, 355]]),
    (251, [[170, 190, 205], [210, 225, 195], [200, 160, 180], [358, 355, 345], [12, 345], [3, 350], [22, 355], [8, 345], [16, 350], [28, 355], [5, 345], [14, 350], [20, 355]]),
    (264, [[180, 200, 210], [200, 215, 190], [190, 350, 345], [345, 358, 355], [5, 350], [15, 345], [25, 355], [8, 350], [18, 345], [3, 355], [12, 350], [20, 345]]),
    (276, [[190, 220, 200], [210, 200, 185], [180, 150, 170], [345, 355, 350], [20, 340], [4, 355], [14, 345], [26, 350], [8, 355], [16, 345], [12, 350], [2, 350]]),
    (288, [[180, 210, 200], [225, 200, 190], [195, 170, 160], [355, 12, 345], [3, 345], [22, 355], [8, 350], [16, 345], [28, 355], [5, 350], [14, 345], [20, 355], [10, 350]]),
    (301, [[190, 200, 210], [215, 180, 195], [170, 350, 345], [350, 5, 355], [15, 355], [25, 345], [8, 350], [18, 355], [3, 345], [12, 350], [20, 355], [6, 345]]),
    (313, [[200, 215, 205], [210, 190, 180], [180, 345, 355], [345, 10, 350], [20, 350], [4, 355], [14, 345], [26, 350], [8, 355], [16, 345], [2, 350], [12, 355], [18, 345]]),
    (326, [[60, 120, 200], [200, 210, 215], [230, 255, 205], [355, 12, 345], [3, 345], [22, 350], [8, 355], [16, 345], [5, 350], [18, 358], [10, 350]]),
]
obs_1228 = [
    (120, [[350, 340], [355, 330], [5, 345], [358, 320], [340, 350], [10, 355], [345, 335]]),
    (127, [[240, 200, 210], [180, 210, 190], [130, 60, 300], [300, 355, 340], [340, 350, 330], [358, 345], [20, 352], [345, 335], [8, 350], [355, 340], [3, 345], [25, 340]]),
    (139, [[180, 200, 190], [160, 210, 200], [230, 170, 340], [340, 355, 350], [345, 12, 330], [352, 340], [6, 330], [355, 345], [28, 345], [3, 350], [340, 355], [9, 345], [358, 340]]),
    (152, [[50, 30, 200], [200, 230, 190], [210, 175, 160], [60, 350, 340], [355, 345], [340, 350], [25, 350], [8, 345], [358, 340], [3, 350], [12, 350], [345, 355], [5, 345]]),
    (164, [[170, 200, 190], [210, 190, 180], [150, 350, 340], [355, 340], [345, 8], [355, 345], [5, 358], [340, 350], [3, 345], [12, 358], [350, 340], [6, 355], [345, 350]]),
    (177, [[170, 200, 190], [210, 225, 200], [200, 180, 170], [350, 345, 355], [355, 12], [340, 350], [5, 350], [16, 345], [358, 340], [4, 355], [345, 350], [20, 355]]),
    (189, [[180, 200, 190], [210, 225, 205], [200, 170, 160], [150, 355, 345], [350, 20], [5, 345], [355, 340], [8, 350], [25, 358], [340, 345], [12, 355], [350, 340], [10, 345]]),
    (202, [[160, 190, 200], [210, 225, 195], [200, 180, 170], [355, 345, 350], [358, 12], [340, 350], [6, 350], [355, 345], [26, 340], [345, 355], [3, 350], [358, 345]]),
    (214, [[190, 215, 200], [200, 160, 180], [240, 355, 300], [350, 355, 345], [345, 10], [340, 350], [5, 340], [355, 345], [25, 350], [350, 340], [18, 355], [3, 345], [345, 350]]),
    (227, [[160, 190, 200], [205, 220, 195], [200, 170, 160], [355, 345, 350], [10, 340], [6, 355], [16, 355], [350, 345], [9, 340], [345, 355], [3, 350], [358, 345]]),
    (239, [[170, 200, 190], [215, 190, 180], [150, 350, 340], [350, 345, 355], [20, 350], [4, 355], [340, 345], [26, 350], [355, 340], [16, 345], [2, 350], [345, 355]]),
    (251, [[170, 190, 200], [210, 225, 195], [200, 160, 180], [358, 355, 345], [12, 345], [3, 350], [350, 340], [8, 345], [340, 355], [28, 350], [5, 345], [355, 340], [20, 350]]),
    (264, [[180, 200, 190], [200, 215, 205], [190, 350, 340], [345, 358, 355], [5, 350], [15, 345], [340, 355], [8, 350], [355, 345], [3, 340], [345, 350], [20, 355]]),
    (276, [[190, 220, 200], [210, 200, 185], [180, 150, 170], [345, 355, 350], [20, 340], [4, 355], [350, 345], [26, 350], [8, 355], [355, 345], [12, 350], [2, 350]]),
    (288, [[180, 210, 200], [225, 200, 190], [195, 170, 160], [355, 12, 345], [3, 345], [350, 355], [8, 350], [340, 345], [28, 355], [355, 350], [14, 345], [345, 355], [10, 350]]),
    (301, [[190, 200, 210], [215, 180, 195], [170, 350, 345], [350, 5, 355], [15, 355], [340, 345], [8, 350], [350, 355], [3, 345], [355, 350], [20, 355], [345, 340]]),
    (313, [[200, 215, 205], [210, 190, 180], [180, 345, 355], [345, 10, 350], [20, 350], [340, 355], [14, 345], [355, 350], [8, 355], [345, 340], [2, 350], [350, 355], [18, 345]]),
    (326, [[60, 120, 200], [200, 210, 215], [230, 255, 205], [355, 12, 345], [3, 345], [22, 350], [340, 355], [16, 345], [355, 350], [18, 358], [10, 350]]),
]
obs_1326 = [
    (120, [[350, 340], [330, 355], [345, 320], [358, 335], [340, 350], [325, 355], [345, 335]]),
    (127, [[260, 190, 210], [180, 210, 200], [130, 60, 150], [150, 355, 330], [340, 350, 345], [358, 345], [30, 352], [345, 335], [340, 355], [355, 320], [330, 345], [350, 340]]),
    (139, [[180, 190, 200], [170, 160, 180], [230, 170, 340], [340, 355, 345], [345, 330], [352, 340], [340, 330], [355, 345], [350, 345], [320, 350], [340, 355], [355, 330], [358, 345]]),
    (152, [[190, 200, 180], [180, 160, 170], [150, 120, 340], [60, 350, 330], [355, 345], [340, 355], [330, 350], [310, 345], [358, 340], [345, 355], [335, 350], [345, 330], [350, 340]]),
    (164, [[170, 200, 185], [190, 160, 175], [150, 350, 340], [355, 340], [345, 330], [355, 345], [340, 358], [340, 350], [320, 345], [350, 358], [350, 335], [345, 355], [345, 340]]),
    (177, [[170, 200, 185], [190, 180, 170], [160, 130, 340], [350, 345, 355], [355, 340], [340, 350], [330, 350], [310, 345], [358, 340], [345, 355], [345, 335], [320, 355]]),
    (189, [[180, 200, 190], [190, 170, 180], [160, 140, 345], [110, 355, 340], [350, 340], [330, 345], [355, 340], [340, 350], [325, 358], [340, 345], [320, 355], [350, 340], [345, 335]]),
    (202, [[200, 210, 190], [190, 180, 170], [170, 160, 345], [355, 345, 350], [358, 330], [340, 350], [300, 350], [355, 345], [330, 340], [345, 355], [320, 350], [358, 345]]),
    (214, [[190, 200, 185], [170, 150, 180], [240, 355, 330], [350, 355, 345], [345, 330], [340, 350], [320, 340], [355, 345], [300, 350], [350, 335], [345, 355], [330, 340], [345, 350]]),
    (227, [[180, 200, 190], [205, 190, 175], [180, 160, 340], [355, 345, 350], [10, 340], [5, 330], [16, 355], [350, 345], [20, 345], [345, 335], [330, 355], [358, 345]]),
    (239, [[170, 200, 190], [190, 170, 180], [150, 350, 340], [350, 345, 355], [5, 340], [12, 355], [340, 350], [3, 345], [355, 335], [330, 350], [320, 345], [345, 355]]),
    (251, [[170, 190, 200], [200, 180, 185], [170, 160, 345], [358, 355, 345], [12, 345], [340, 350], [350, 335], [8, 330], [340, 355], [345, 350], [355, 340], [355, 330], [350, 345]]),
    (264, [[180, 200, 190], [190, 170, 180], [150, 350, 340], [345, 358, 355], [5, 350], [340, 355], [330, 345], [8, 355], [355, 340], [320, 350], [345, 335], [350, 355]]),
    (276, [[190, 200, 185], [180, 170, 175], [160, 140, 345], [345, 355, 350], [20, 340], [4, 330], [350, 355], [340, 345], [8, 345], [355, 335], [330, 350], [2, 350]]),
    (288, [[200, 210, 190], [190, 180, 170], [170, 150, 345], [355, 345, 350], [3, 345], [350, 340], [8, 340], [340, 355], [50, 355], [355, 345], [345, 330], [345, 350], [330, 355]]),
    (301, [[190, 200, 185], [180, 170, 175], [160, 350, 345], [350, 340, 355], [15, 355], [340, 350], [8, 330], [350, 345], [3, 345], [355, 335], [330, 350], [345, 355]]),
    (313, [[200, 215, 190], [210, 190, 180], [180, 345, 355], [345, 330, 350], [20, 350], [340, 355], [10, 355], [355, 345], [330, 350], [345, 335], [320, 355], [350, 345], [340, 355]]),
    (326, [[190, 200, 210], [210, 180, 200], [170, 230, 345], [355, 345, 350], [3, 345], [40, 350], [340, 355], [20, 355], [355, 345], [10, 358], [345, 350]]),
]
obs_1426 = [
    (120, [[345, 330], [335, 355], [340, 325], [358, 330], [330, 350], [320, 345], [345, 335]]),
    (127, [[150, 190, 180], [180, 200, 170], [110, 170, 160], [60, 355, 340], [340, 350, 345], [358, 345], [20, 340], [345, 335], [350, 340], [355, 320], [330, 345], [350, 340]]),
    (139, [[180, 170, 160], [160, 150, 170], [200, 170, 340], [340, 355, 345], [345, 330], [352, 340], [340, 300], [355, 345], [350, 345], [320, 350], [340, 355], [355, 330], [358, 345]]),
    (152, [[190, 200, 180], [170, 160, 175], [150, 100, 340], [60, 350, 330], [355, 345], [340, 355], [330, 350], [310, 345], [358, 340], [345, 355], [335, 350], [345, 330], [350, 340]]),
    (164, [[160, 200, 180], [180, 150, 170], [100, 350, 340], [355, 340], [345, 330], [355, 345], [340, 358], [340, 350], [320, 345], [350, 358], [350, 335], [345, 355], [345, 340]]),
    (177, [[170, 190, 180], [180, 160, 170], [150, 110, 340], [350, 345, 355], [355, 340], [340, 350], [330, 350], [310, 345], [358, 340], [345, 355], [345, 335], [320, 355]]),
    (189, [[180, 200, 190], [190, 170, 180], [150, 120, 345], [80, 355, 340], [350, 340], [330, 345], [355, 340], [340, 350], [325, 358], [340, 345], [320, 355], [350, 340], [345, 335]]),
    (202, [[200, 220, 190], [190, 180, 170], [170, 160, 345], [355, 345, 350], [358, 330], [340, 350], [300, 350], [355, 345], [330, 340], [345, 355], [320, 350], [358, 345]]),
    (214, [[180, 200, 185], [170, 150, 180], [240, 355, 330], [350, 355, 345], [345, 330], [340, 350], [320, 340], [355, 345], [300, 350], [350, 335], [345, 355], [330, 340], [345, 350]]),
    (227, [[180, 200, 190], [200, 190, 175], [180, 160, 340], [355, 345, 350], [10, 340], [5, 330], [16, 355], [350, 345], [345, 335], [345, 355], [330, 350], [358, 345]]),
    (239, [[170, 200, 190], [190, 170, 180], [150, 350, 340], [350, 345, 355], [5, 340], [12, 355], [340, 350], [3, 345], [355, 335], [330, 350], [320, 345], [345, 355]]),
    (251, [[170, 190, 200], [200, 180, 185], [170, 160, 345], [358, 355, 345], [12, 345], [340, 350], [350, 335], [8, 330], [340, 355], [345, 350], [355, 340], [355, 330], [350, 345]]),
    (264, [[180, 200, 190], [190, 170, 180], [150, 350, 340], [345, 358, 355], [5, 350], [340, 355], [20, 330], [8, 355], [355, 340], [320, 350], [345, 335], [350, 355]]),
    (276, [[190, 200, 185], [180, 170, 175], [130, 100, 345], [345, 355, 350], [20, 340], [4, 330], [350, 355], [340, 345], [8, 345], [355, 335], [330, 350], [2, 350]]),
    (288, [[210, 220, 200], [230, 200, 215], [190, 150, 345], [355, 345, 350], [3, 345], [350, 340], [8, 340], [340, 355], [50, 355], [355, 345], [345, 330], [345, 350], [330, 355]]),
    (301, [[200, 215, 205], [220, 230, 210], [180, 350, 345], [350, 340, 355], [15, 355], [340, 350], [8, 330], [350, 345], [3, 345], [355, 335], [330, 350], [345, 355]]),
    (313, [[200, 215, 205], [210, 225, 215], [220, 345, 355], [345, 330, 350], [20, 350], [340, 355], [10, 355], [355, 345], [330, 350], [345, 335], [320, 355], [350, 345], [340, 355]]),
    (326, [[190, 210, 200], [220, 200, 215], [230, 220, 345], [355, 345, 350], [3, 345], [20, 350], [340, 355], [5, 355], [355, 345], [10, 358], [345, 350]]),
]
obs = {"3.26": obs_326, "4.27": obs_427, "5.27": obs_527, "6.28": obs_628,
       "7.28": obs_728, "8.26": obs_826, "9.27": obs_927, "10.27": obs_1027,
       "11.28": obs_1128, "12.28": obs_1228, "13.26": obs_1326, "14.26": obs_1426}


def model_series(dep):
    if dep in model_hi:
        y = [45] * 337
        for a, b in model_hi[dep]:
            for h in range(a, b + 1):
                y[h] = 225
    else:
        y = [225] * 337
        for a, b in model_lo[dep]:
            for h in range(a, b + 1):
                y[h] = 45
    x = [t0 + pd.Timedelta(hours=h) for h in range(337)]
    return x, y


def obs_series(groups):
    # readings inside one hour are spread evenly over that hour
    xs, ys = [], []
    for start, hours in groups:
        for i, vals in enumerate(hours):
            for j, d in enumerate(vals):
                xs.append(t0 + pd.Timedelta(hours=start + i + j / len(vals)))
                ys.append(d)
    return xs, ys


W, H = 2500, 1600
col_x = [[52 / W, 1211 / W], [1308 / W, 2468 / W]]
row_top = [36 + 264.5 * k for k in range(6)]
ph = 209

fig = go.Figure()
font = "DejaVu Sans"
tickdates = [t0 + pd.Timedelta(days=d) for d in xtick_days]

for i, dep in enumerate(depths):
    n = i + 1
    row, col = divmod(i, 2)
    sfx = "" if n == 1 else str(n)
    lg = "legend" + sfx
    xd = col_x[col]
    yd = [1 - (row_top[row] + ph) / H, 1 - row_top[row] / H]

    ox, oy = obs_series(obs[dep])
    fig.add_trace(go.Scatter(x=ox, y=oy, mode="markers", name=f"Obs : {dep} m depth",
                             marker=dict(color="#ff0000", size=6, line=dict(width=0)),
                             xaxis="x" + sfx, yaxis="y" + sfx, legend=lg))
    mx, my = model_series(dep)
    fig.add_trace(go.Scatter(x=mx, y=my, mode="lines", name=f"RUN07h_HJ : {dep} m depth",
                             line=dict(color="#0000ff", width=2),
                             xaxis="x" + sfx, yaxis="y" + sfx, legend=lg))

    fig.layout["xaxis" + sfx] = dict(
        domain=xd, anchor="y" + sfx, type="date", automargin=False,
        range=[t0, t0 + pd.Timedelta(days=14)],
        tickvals=tickdates, tickformat="%d/%b",
        showline=True, linecolor="black", linewidth=1.3, mirror=True,
        ticks="outside", ticklen=5, tickcolor="black", showgrid=False, zeroline=False,
        tickfont=dict(family=font, size=13, color="black"))
    yax = dict(
        domain=yd, anchor="x" + sfx, range=[0, 360], tickvals=ytick_vals, automargin=False,
        showline=True, linecolor="black", linewidth=1.3, mirror=True,
        ticks="outside", ticklen=5, tickcolor="black", showgrid=False, zeroline=False,
        tickfont=dict(family=font, size=13, color="black"))
    if col == 1:
        yax["title"] = dict(text="Vel.Dir (deg)", font=dict(family=font, size=14, color="black"), standoff=8)
    fig.layout["yaxis" + sfx] = yax

    fig.layout[lg] = dict(
        x=xd[1] - 6 / W, y=yd[1] - 6 / H, xanchor="right", yanchor="top",
        bgcolor="rgba(255,255,255,0.8)", bordercolor="#cccccc", borderwidth=1,
        font=dict(family=font, size=14, color="black"), itemwidth=30, tracegroupgap=0)

    fig.add_annotation(
        text=f"station:cb0402, R={r_vals[i]: .3f}, Bias={bias_vals[i]: .4f}, RMSE={rmse_vals[i]:.4f}",
        x=(xd[0] + xd[1]) / 2, y=yd[1], xref="paper", yref="paper",
        xanchor="center", yanchor="bottom", yshift=3, showarrow=False,
        font=dict(family=font, size=17, color="black"))

fig.update_layout(width=W, height=H, margin=dict(l=0, r=0, t=0, b=0),
                  paper_bgcolor="white", plot_bgcolor="white", showlegend=True,
                  font=dict(family=font))
fig.write_html("out.html", config={"displayModeBar": False},
               post_script="document.body.style.margin='0px';")
